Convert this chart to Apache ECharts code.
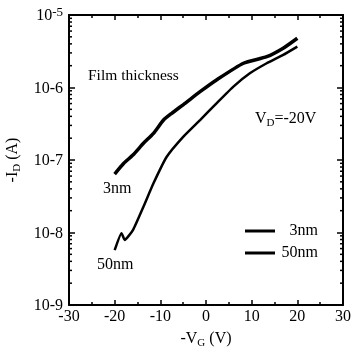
<!DOCTYPE html>
<html><head><meta charset="utf-8">
<script src="https://cdn.jsdelivr.net/npm/echarts@6/dist/echarts.min.js"></script>
<style>html,body{margin:0;padding:0;background:#fff}#c{width:352px;height:347px}</style>
</head><body><div id="c"></div>
<script>
const vg3 = [-20, -18, -16, -13.7, -11.5, -9.3, -7.5, -4.6, -1.3, 2.3, 8.2, 13.3, 16.9, 20];
const id3 = [6.4e-8, 9.0e-8, 1.17e-7, 1.70e-7, 2.33e-7, 3.56e-7, 4.41e-7, 6.05e-7, 8.75e-7, 1.27e-6, 2.16e-6, 2.66e-6, 3.48e-6, 4.78e-6];
const vg50 = [-20, -18.5, -17.8, -16, -13.7, -11.5, -8.6, -5, -1.3, 2.3, 6, 9.6, 13.3, 16.9, 20];
const id50 = [5.7e-9, 9.8e-9, 7.9e-9, 1.08e-8, 2.27e-8, 4.78e-8, 1.11e-7, 2.09e-7, 3.56e-7, 6.05e-7, 1.03e-6, 1.57e-6, 2.16e-6, 2.81e-6, 3.66e-6];
const seriesNames = ['3nm', '50nm'];
const xMin = -30, xMax = 30, xInterval = 10;
const yMin = 1e-9, yMax = 1e-5;
const minorMult = [2, 3, 4, 5, 6, 7, 8, 9];
const decades = [1e-9, 1e-8, 1e-7, 1e-6];

const minorVals = [];
decades.forEach(d => minorMult.forEach(m => minorVals.push([m * d])));

const FONT = '"Liberation Serif", "Times New Roman", serif';
const chart = echarts.init(document.getElementById('c'), null, {renderer: 'canvas'});

const axisLine = {show: true, onZero: false, lineStyle: {color: '#000', width: 2}};
chart.setOption({
  animation: false,
  backgroundColor: '#fff',
  textStyle: {fontFamily: FONT, color: '#000'},
  grid: {left: 69, right: 9, top: 15, bottom: 42, containLabel: false, outerBoundsMode: 'none'},
  legend: {
    data: seriesNames,
    orient: 'vertical',
    left: 240, top: 218,
    itemWidth: 30, itemHeight: 3, itemGap: 6,
    icon: 'rect',
    formatter: n => '{t|' + n + '}',
    textStyle: {fontFamily: FONT, fontSize: 16, color: '#000',
      rich: {t: {fontFamily: FONT, fontSize: 16, width: 38, align: 'right'}}},
    selectedMode: false
  },
  xAxis: [{
    type: 'value', min: xMin, max: xMax, interval: xInterval,
    axisLine: axisLine,
    axisTick: {show: true, inside: true, length: 5, lineStyle: {color: '#000', width: 1.5}},
    minorTick: {show: true, splitNumber: 2, length: 3, lineStyle: {color: '#000', width: 1.5}},
    splitLine: {show: false},
    axisLabel: {fontFamily: FONT, fontSize: 16, color: '#000', margin: 4},
    name: '{b|-V}{s|G}{b| (V)}', nameLocation: 'middle', nameGap: 21,
    nameTextStyle: {fontFamily: FONT, fontSize: 16, color: '#000',
      rich: {b: {fontFamily: FONT, fontSize: 16, lineHeight: 18, verticalAlign: 'top'},
             s: {fontFamily: FONT, fontSize: 11, lineHeight: 11, verticalAlign: 'bottom', padding: [8, 0, 0, 0]}}}
  }, {
    type: 'value', position: 'top', min: xMin, max: xMax, interval: xInterval,
    axisLine: axisLine,
    axisTick: {show: true, inside: true, length: 5, lineStyle: {color: '#000', width: 1.5}},
    minorTick: {show: true, splitNumber: 2, length: 3, lineStyle: {color: '#000', width: 1.5}},
    splitLine: {show: false}, axisLabel: {show: false}
  }],
  yAxis: [{
    type: 'log', logBase: 10, min: yMin, max: yMax,
    axisLine: axisLine,
    axisTick: {show: true, inside: true, length: 6, lineStyle: {color: '#000', width: 1.5}},
    splitLine: {show: false},
    axisLabel: {
      fontFamily: FONT, fontSize: 16, color: '#000', margin: 6,
      formatter: v => {
        const e = Math.round(Math.log10(v));
        return e === -5 ? '{b|10}{p|' + e + '}' : '{b|10' + e + '}';
      },
      rich: {b: {fontFamily: FONT, fontSize: 16, lineHeight: 18, verticalAlign: 'bottom'},
             p: {fontFamily: FONT, fontSize: 13, lineHeight: 13, verticalAlign: 'top', padding: [0, 0, 6, 0]}}
    },
    name: '{b|-I}{s|D}{b| (A)}', nameLocation: 'middle', nameGap: 37, nameRotate: 90,
    nameTextStyle: {fontFamily: FONT, fontSize: 16, color: '#000',
      rich: {b: {fontFamily: FONT, fontSize: 16, lineHeight: 18, verticalAlign: 'top'},
             s: {fontFamily: FONT, fontSize: 11, lineHeight: 11, verticalAlign: 'bottom', padding: [8, 0, 0, 0]}}}
  }, {
    type: 'log', logBase: 10, min: yMin, max: yMax, position: 'right',
    axisLine: axisLine,
    axisTick: {show: true, inside: true, length: 6, lineStyle: {color: '#000', width: 1.5}},
    splitLine: {show: false}, axisLabel: {show: false}
  }],
  series: [{
    name: seriesNames[0], type: 'line', showSymbol: false, symbol: 'none',
    data: vg3.map((x, i) => [x, id3[i]]), smooth: 0.2,
    lineStyle: {color: '#000', width: 3.5}, itemStyle: {color: '#000'}
  }, {
    name: seriesNames[1], type: 'line', showSymbol: false, symbol: 'none',
    data: vg50.map((x, i) => [x, id50[i]]), smooth: 0.15,
    lineStyle: {color: '#000', width: 2.5}, itemStyle: {color: '#000'}
  }, {
    name: 'minorTicks', type: 'custom', silent: true,
    data: minorVals,
    renderItem: (params, api) => {
      const l = api.coord([xMin, api.value(0)]);
      const r = api.coord([xMax, api.value(0)]);
      return {type: 'group', children: [
        {type: 'line', shape: {x1: l[0], y1: l[1], x2: l[0] + 3, y2: l[1]}, style: {stroke: '#000', lineWidth: 1.5}},
        {type: 'line', shape: {x1: r[0], y1: r[1], x2: r[0] - 3, y2: r[1]}, style: {stroke: '#000', lineWidth: 1.5}}
      ]};
    },
    encode: {x: -1, y: 0}
  }],
  graphic: [
    {type: 'text', left: 88, top: 68, style: {text: 'Film thickness', font: '15.5px ' + FONT, fill: '#000'}},
    {type: 'text', left: 255, top: 110, style: {
      text: '{b|V}{s|D}{b|=-20V}', fill: '#000',
      rich: {b: {fontFamily: FONT, fontSize: 16, lineHeight: 18, verticalAlign: 'top'},
             s: {fontFamily: FONT, fontSize: 11, lineHeight: 11, verticalAlign: 'bottom', padding: [8, 0, 0, 0]}}}},
    {type: 'text', left: 103, top: 181, style: {text: '3nm', font: '16px ' + FONT, fill: '#000'}},
    {type: 'text', left: 97, top: 257, style: {text: '50nm', font: '16px ' + FONT, fill: '#000'}}
  ]
});
</script></body></html>
